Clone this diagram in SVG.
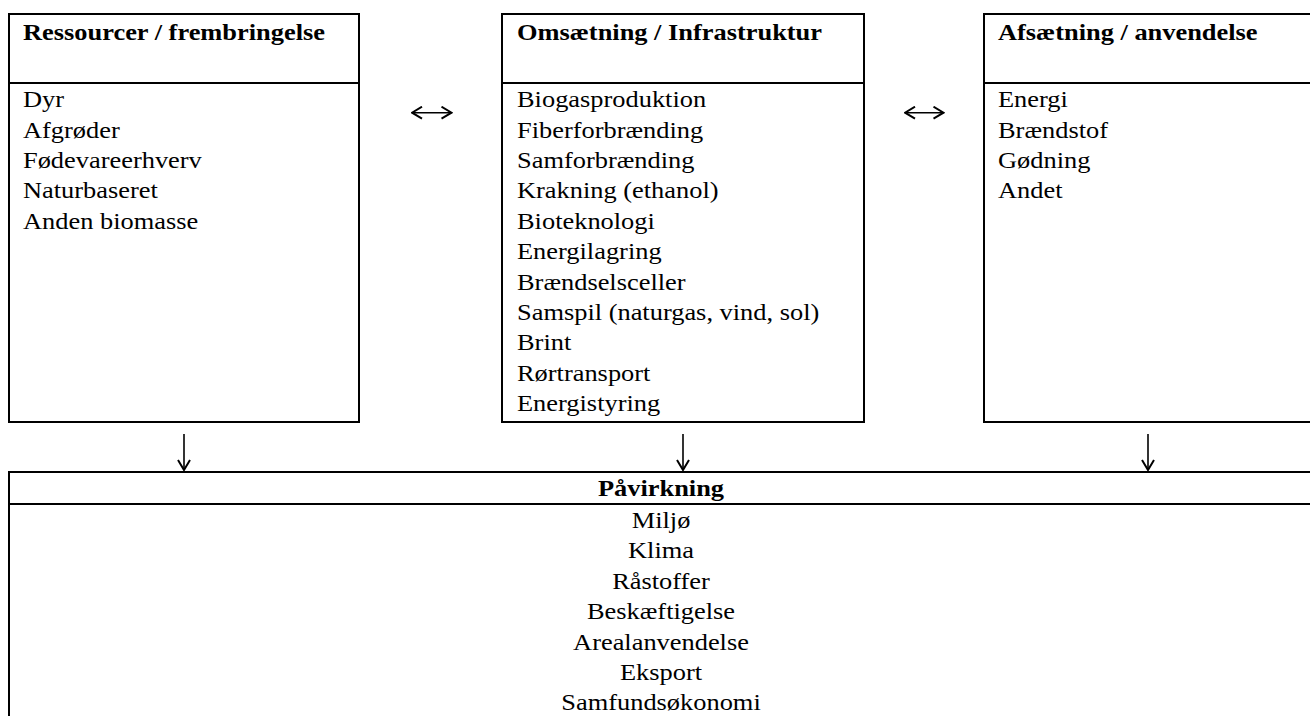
<svg xmlns="http://www.w3.org/2000/svg" width="1310" height="716" viewBox="0 0 1310 716">
<style>
  .box { fill: #ffffff; stroke: #000000; stroke-width: 2; }
  .div { stroke: #000000; stroke-width: 2; }
  .t { font-family: "Liberation Serif", "Times New Roman", serif; font-size: 23px; fill: #000000; }
  .b { font-weight: bold; }
  .c { text-anchor: middle; }
  .conn { fill: none; stroke: #000000; stroke-width: 1.6; }
</style>
<defs>
  <marker id="head" viewBox="0 0 12 14" refX="11" refY="7" markerWidth="12" markerHeight="14" markerUnits="userSpaceOnUse" orient="auto-start-reverse">
    <path d="M1,1 L11,7 L1,13" fill="none" stroke="#000000" stroke-width="2"/>
  </marker>
</defs>
<rect width="1310" height="716" fill="#ffffff"/>

<g id="node-ressourcer">
  <rect class="box" x="9" y="14" width="350" height="408"/>
  <line class="div" x1="9" y1="83" x2="359" y2="83"/>
  <g transform="translate(23,0) scale(1.148,1)">
    <text class="t b" x="0" y="40">Ressourcer / frembringelse</text>
    <text class="t" x="0" y="107.3">Dyr</text>
    <text class="t" x="0" y="137.7">Afgrøder</text>
    <text class="t" x="0" y="168.1">Fødevareerhverv</text>
    <text class="t" x="0" y="198.5">Naturbaseret</text>
    <text class="t" x="0" y="228.9">Anden biomasse</text>
  </g>
</g>

<g id="node-omsaetning">
  <rect class="box" x="502" y="14" width="362" height="408"/>
  <line class="div" x1="502" y1="83" x2="864" y2="83"/>
  <g transform="translate(517,0) scale(1.148,1)">
    <text class="t b" x="0" y="40">Omsætning / Infrastruktur</text>
    <text class="t" x="0" y="107.3">Biogasproduktion</text>
    <text class="t" x="0" y="137.7">Fiberforbrænding</text>
    <text class="t" x="0" y="168.1">Samforbrænding</text>
    <text class="t" x="0" y="198.5">Krakning (ethanol)</text>
    <text class="t" x="0" y="228.9">Bioteknologi</text>
    <text class="t" x="0" y="259.3">Energilagring</text>
    <text class="t" x="0" y="289.7">Brændselsceller</text>
    <text class="t" x="0" y="320.1">Samspil (naturgas, vind, sol)</text>
    <text class="t" x="0" y="350.5">Brint</text>
    <text class="t" x="0" y="380.9">Rørtransport</text>
    <text class="t" x="0" y="411.3">Energistyring</text>
  </g>
</g>

<g id="node-afsaetning">
  <rect class="box" x="984" y="14" width="340" height="408"/>
  <line class="div" x1="984" y1="83" x2="1320" y2="83"/>
  <g transform="translate(998,0) scale(1.148,1)">
    <text class="t b" x="0" y="40">Afsætning / anvendelse</text>
    <text class="t" x="0" y="107.3">Energi</text>
    <text class="t" x="0" y="137.7">Brændstof</text>
    <text class="t" x="0" y="168.1">Gødning</text>
    <text class="t" x="0" y="198.5">Andet</text>
  </g>
</g>

<g id="node-paavirkning">
  <rect class="box" x="9" y="472" width="1320" height="260"/>
  <line class="div" x1="9" y1="504" x2="1320" y2="504"/>
  <g transform="translate(661,0) scale(1.148,1)">
    <text class="t b c" x="0" y="496">Påvirkning</text>
    <text class="t c" x="0" y="528">Miljø</text>
    <text class="t c" x="0" y="558.4">Klima</text>
    <text class="t c" x="0" y="588.8">Råstoffer</text>
    <text class="t c" x="0" y="619.2">Beskæftigelse</text>
    <text class="t c" x="0" y="649.6">Arealanvendelse</text>
    <text class="t c" x="0" y="680">Eksport</text>
    <text class="t c" x="0" y="710.4">Samfundsøkonomi</text>
  </g>
</g>

<g id="connectors">
  <path class="conn" d="M412,112.7 L451.5,112.7" marker-start="url(#head)" marker-end="url(#head)"/>
  <path class="conn" d="M905,112.7 L943.5,112.7" marker-start="url(#head)" marker-end="url(#head)"/>
  <path class="conn" d="M184,434 L184,470" marker-end="url(#head)"/>
  <path class="conn" d="M683,434 L683,470" marker-end="url(#head)"/>
  <path class="conn" d="M1148,434 L1148,470" marker-end="url(#head)"/>
</g>
</svg>
